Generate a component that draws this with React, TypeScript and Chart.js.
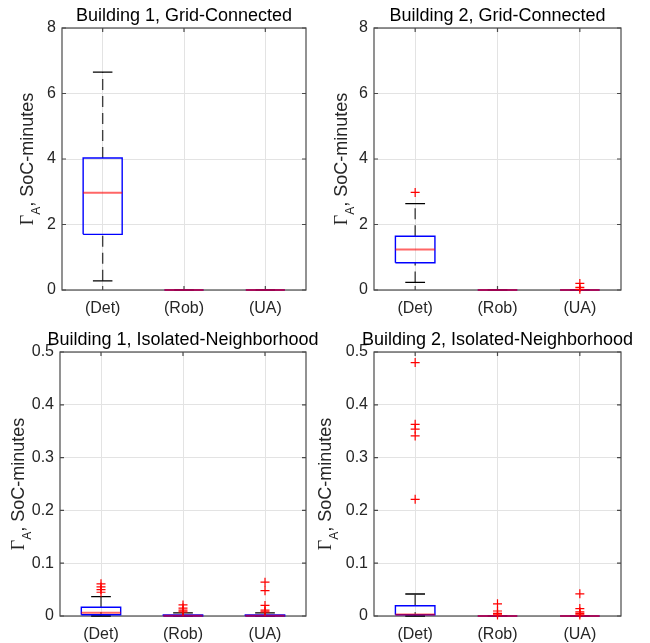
import React, { useEffect, useRef } from "react";
import { Chart, registerables } from "chart.js";

Chart.register(...registerables);

// ---------------- data ----------------
const categories = ["(Det)", "(Rob)", "(UA)"];
const titles = [
  "Building 1, Grid-Connected",
  "Building 2, Grid-Connected",
  "Building 1, Isolated-Neighborhood",
  "Building 2, Isolated-Neighborhood",
];
const yLabelMain = "\u0393";
const yLabelSub = "A";
const yLabelRest = ", SoC-minutes";

const gridTicks = [0, 2, 4, 6, 8];
const isoTicks = [0, 0.1, 0.2, 0.3, 0.4, 0.5];

// [lower whisker, Q1, median, Q3, upper whisker] per category
const b1GridStats = [
  [0.28, 1.7, 2.97, 4.03, 6.65],
  [0, 0, 0, 0, 0],
  [0, 0, 0, 0, 0],
];
const b1GridOutliers: number[][] = [[], [], []];

const b2GridStats = [
  [0.23, 0.83, 1.24, 1.64, 2.64],
  [0, 0, 0, 0, 0],
  [0, 0, 0, 0, 0],
];
const b2GridOutliers = [[2.98], [], [0.2, 0.08, 0.02]];

const b1IsoStats = [
  [0, 0.0025, 0.0063, 0.0165, 0.0366],
  [0, 0, 0.0005, 0.002, 0.006],
  [0, 0, 0.0005, 0.002, 0.006],
];
const b1IsoOutliers = [
  [0.045, 0.05, 0.055, 0.061],
  [0.008, 0.011, 0.015, 0.021],
  [0.008, 0.011, 0.02, 0.048, 0.064],
];

const b2IsoStats = [
  [0, 0.0025, 0.003, 0.0195, 0.0417],
  [0, 0, 0, 0, 0],
  [0, 0, 0, 0, 0],
];
const b2IsoOutliers = [
  [0.221, 0.341, 0.354, 0.363, 0.48],
  [0.002, 0.005, 0.0095, 0.023],
  [0.002, 0.005, 0.008, 0.014, 0.042],
];

// ---------------- layout / style ----------------
const panels = [
  { title: titles[0], stats: b1GridStats, outliers: b1GridOutliers, ticks: gridTicks,
    box: { x: 0, y: 0, w: 325, h: 320 }, area: { l: 62, r: 306, t: 28, b: 290 }, labelX: 33 },
  { title: titles[1], stats: b2GridStats, outliers: b2GridOutliers, ticks: gridTicks,
    box: { x: 305, y: 0, w: 345, h: 320 }, area: { l: 69, r: 316, t: 28, b: 290 }, labelX: 42 },
  { title: titles[2], stats: b1IsoStats, outliers: b1IsoOutliers, ticks: isoTicks,
    box: { x: 0, y: 320, w: 325, h: 323 }, area: { l: 60, r: 306, t: 32, b: 296 }, labelX: 24 },
  { title: titles[3], stats: b2IsoStats, outliers: b2IsoOutliers, ticks: isoTicks,
    box: { x: 305, y: 320, w: 345, h: 323 }, area: { l: 69, r: 316, t: 32, b: 296 }, labelX: 26 },
];

const SANS = '"Liberation Sans", Arial, sans-serif';
const SERIF = '"Liberation Serif", "Times New Roman", serif';
const AXIS_COLOR = "#4a4a4a";
const TEXT_COLOR = "#262626";
const GRID_COLOR = "#e3e3e3";
const BOX_HALF = 0.24;
const CAP_HALF = 0.12;
const TICK_LEN = 4;

function buildDatasets(stats: number[][], outliers: number[][]) {
  const whisk: any[] = [];
  const caps: any[] = [];
  const boxes: any[] = [];
  const meds: any[] = [];
  const outs: any[] = [];
  stats.forEach((s, i) => {
    const x = i + 1;
    const [lo, q1, med, q3, hi] = s;
    whisk.push({ x, y: q3 }, { x, y: hi }, { x, y: null }, { x, y: lo }, { x, y: q1 }, { x, y: null });
    caps.push(
      { x: x - CAP_HALF, y: hi }, { x: x + CAP_HALF, y: hi }, { x, y: null },
      { x: x - CAP_HALF, y: lo }, { x: x + CAP_HALF, y: lo }, { x, y: null }
    );
    boxes.push(
      { x: x - BOX_HALF, y: q1 }, { x: x + BOX_HALF, y: q1 }, { x: x + BOX_HALF, y: q3 },
      { x: x - BOX_HALF, y: q3 }, { x: x - BOX_HALF, y: q1 }, { x, y: null }
    );
    meds.push({ x: x - BOX_HALF, y: med }, { x: x + BOX_HALF, y: med }, { x, y: null });
    outliers[i].forEach((v) => outs.push({ x, y: v }));
  });
  const lineBase = { type: "line", pointRadius: 0, pointHoverRadius: 0, spanGaps: false, tension: 0, clip: false, fill: false };
  return [
    { ...lineBase, label: "whiskers", data: whisk, borderColor: "rgba(0,0,0,0.72)", borderWidth: 1.4, borderDash: [11, 6], order: 5 },
    { ...lineBase, label: "caps", data: caps, borderColor: "#000000", borderWidth: 1.3, order: 4 },
    { ...lineBase, label: "boxes", data: boxes, borderColor: "#0000ff", borderWidth: 1.4, borderJoinStyle: "miter", order: 3 },
    { ...lineBase, label: "medians", data: meds, borderColor: "rgba(255,0,0,0.6)", borderWidth: 2, order: 2 },
    {
      type: "line", label: "outliers", data: outs, showLine: false, clip: false,
      pointStyle: "cross", pointRadius: 4.5, pointHoverRadius: 4.5,
      pointBorderColor: "#ff0000", pointBackgroundColor: "#ff0000", pointBorderWidth: 1.2, order: 1,
    },
  ];
}

const axesPlugin = {
  id: "matlabAxes",
  beforeDatasetsDraw(chart: any) {
    const { ctx, chartArea: a, scales } = chart;
    ctx.save();
    ctx.strokeStyle = AXIS_COLOR;
    ctx.lineWidth = 1.2;
    ctx.beginPath();
    scales.y.ticks.forEach((t: any) => {
      const y = scales.y.getPixelForValue(t.value);
      ctx.moveTo(a.left, y);
      ctx.lineTo(a.left + TICK_LEN, y);
      ctx.moveTo(a.right, y);
      ctx.lineTo(a.right - TICK_LEN, y);
    });
    scales.x.ticks.forEach((t: any) => {
      const x = scales.x.getPixelForValue(t.value);
      ctx.moveTo(x, a.bottom);
      ctx.lineTo(x, a.bottom - TICK_LEN);
      ctx.moveTo(x, a.top);
      ctx.lineTo(x, a.top + TICK_LEN);
    });
    ctx.stroke();
    ctx.strokeRect(a.left, a.top, a.right - a.left, a.bottom - a.top);
    ctx.restore();
  },
  afterDraw(chart: any, _args: any, opts: any) {
    const { ctx, chartArea: a } = chart;
    ctx.save();
    // title
    ctx.fillStyle = "#000000";
    ctx.font = `18px ${SANS}`;
    ctx.textAlign = "center";
    ctx.textBaseline = "alphabetic";
    ctx.fillText(opts.title, (a.left + a.right) / 2, a.top - 7);
    // y label  (Γ_A, SoC-minutes)
    ctx.fillStyle = TEXT_COLOR;
    const mainFont = `18px ${SERIF}`;
    const subFont = `12px ${SANS}`;
    const restFont = `18px ${SANS}`;
    ctx.font = mainFont;
    const w1 = ctx.measureText(yLabelMain).width;
    ctx.font = subFont;
    const w2 = ctx.measureText(yLabelSub).width;
    ctx.font = restFont;
    const w3 = ctx.measureText(yLabelRest).width;
    const total = w1 + w2 + w3;
    ctx.translate(opts.labelX, (a.top + a.bottom) / 2);
    ctx.rotate(-Math.PI / 2);
    ctx.textAlign = "left";
    let x = -total / 2;
    ctx.font = mainFont;
    ctx.fillText(yLabelMain, x, 0);
    x += w1;
    ctx.font = subFont;
    ctx.fillText(yLabelSub, x, 7);
    x += w2;
    ctx.font = restFont;
    ctx.fillText(yLabelRest, x, 0);
    ctx.restore();
  },
};

export default function App() {
  const refs = useRef<(HTMLCanvasElement | null)[]>([]);

  useEffect(() => {
    const charts: Chart[] = [];
    panels.forEach((p, idx) => {
      const canvas = refs.current[idx];
      if (!canvas) return;
      const tickValues = p.ticks;
      const catValues = categories.map((_, i) => i + 1);
      const chart = new Chart(canvas, {
        type: "line",
        data: { datasets: buildDatasets(p.stats, p.outliers) as any },
        plugins: [axesPlugin as any],
        options: {
          responsive: false,
          animation: false,
          devicePixelRatio: 1,
          events: [],
          layout: { padding: { left: 0, top: p.area.t, right: p.box.w - p.area.r, bottom: 0 } },
          plugins: {
            legend: { display: false },
            tooltip: { enabled: false },
            title: { display: false },
            matlabAxes: { title: p.title, labelX: p.labelX },
          } as any,
          scales: {
            x: {
              type: "linear",
              min: 0.5,
              max: 3.5,
              afterBuildTicks: (s: any) => {
                s.ticks = catValues.map((v) => ({ value: v }));
              },
              afterFit: (s: any) => {
                s.height = p.box.h - p.area.b;
              },
              ticks: {
                callback: (v: any) => categories[Math.round(Number(v)) - 1],
                font: { family: SANS, size: 16 },
                color: TEXT_COLOR,
                padding: 9,
                autoSkip: false,
                maxRotation: 0,
              },
              grid: { color: GRID_COLOR, lineWidth: 1, drawTicks: false },
              border: { display: false },
            },
            y: {
              type: "linear",
              min: tickValues[0],
              max: tickValues[tickValues.length - 1],
              afterBuildTicks: (s: any) => {
                s.ticks = tickValues.map((v) => ({ value: v }));
              },
              afterFit: (s: any) => {
                s.width = p.area.l;
              },
              ticks: {
                callback: (v: any) => String(v),
                font: { family: SANS, size: 16 },
                color: TEXT_COLOR,
                padding: 6,
                autoSkip: false,
              },
              grid: { color: GRID_COLOR, lineWidth: 1, drawTicks: false },
              border: { display: false },
            },
          },
        } as any,
      });
      charts.push(chart);
    });
    return () => charts.forEach((c) => c.destroy());
  }, []);

  return (
    <div style={{ position: "fixed", left: 0, top: 0, width: 650, height: 643, background: "#ffffff" }}>
      {panels.map((p, i) => (
        <canvas
          key={i}
          ref={(el) => {
            refs.current[i] = el;
          }}
          width={p.box.w}
          height={p.box.h}
          style={{ position: "absolute", left: p.box.x, top: p.box.y, width: p.box.w, height: p.box.h }}
        />
      ))}
    </div>
  );
}
